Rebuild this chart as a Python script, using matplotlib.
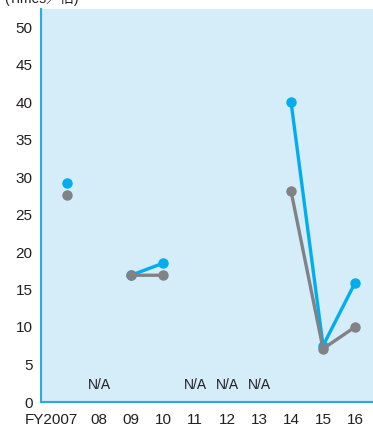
import numpy as np
import matplotlib
matplotlib.use("Agg")
import matplotlib.pyplot as plt
import matplotlib.transforms as mtransforms

plt.rcParams['font.family'] = ['Liberation Sans', 'Noto Sans CJK JP', 'DejaVu Sans']

years = ['FY2007', '08', '09', '10', '11', '12', '13', '14', '15', '16']
blue = [29.2, np.nan, 16.9, 18.5, np.nan, np.nan, np.nan, 40.0, 7.5, 15.9]
gray = [27.6, np.nan, 16.9, 16.9, np.nan, np.nan, np.nan, 28.1, 7.1, 10.0]
na_idx = [1, 4, 5, 6]

c_blue = '#00aeef'
c_gray = '#808285'
c_bg = '#d5ecf9'
c_axis = '#29abe2'

fig = plt.figure(figsize=(3.73, 4.29), dpi=100)
W, H = 373, 429
ax = fig.add_axes([41 / W, 27 / H, (W - 41) / W, (402 - 9) / H])
ax.set_facecolor(c_bg)

x = np.arange(len(years))
ax.plot(x, gray, color=c_gray, lw=2.4, marker='o', ms=6.5, zorder=3)
ax.plot(x, blue, color=c_blue, lw=2.4, marker='o', ms=6.5, zorder=2)

for i in na_idx:
    ax.text(i, 2.3, 'N/A', ha='center', va='center', fontsize=10, color='#231f20')

ax.set_xlim(-0.81, 9.56)
ax.set_ylim(0, 52.4)
ax.set_yticks(range(0, 51, 5))
ax.set_xticks(x)
ax.set_xticklabels(years)
ax.tick_params(axis='both', length=0, labelsize=11, colors='#231f20')
ax.tick_params(axis='x', pad=8)
ax.tick_params(axis='y', pad=6)

# shift the first label left so it clears "08"
first = ax.get_xticklabels()[0]
first.set_transform(first.get_transform() + mtransforms.ScaledTranslation(-16 / 100, 0, fig.dpi_scale_trans))

for s in ['top', 'right']:
    ax.spines[s].set_visible(False)
for s in ['left', 'bottom']:
    ax.spines[s].set_color(c_axis)
    ax.spines[s].set_linewidth(1.5)

fig.text(4 / W, 1 - 6 / H, '(Times／倍)', ha='left', va='bottom', fontsize=10, color='#231f20')

fig.savefig('out.png', dpi=100)
